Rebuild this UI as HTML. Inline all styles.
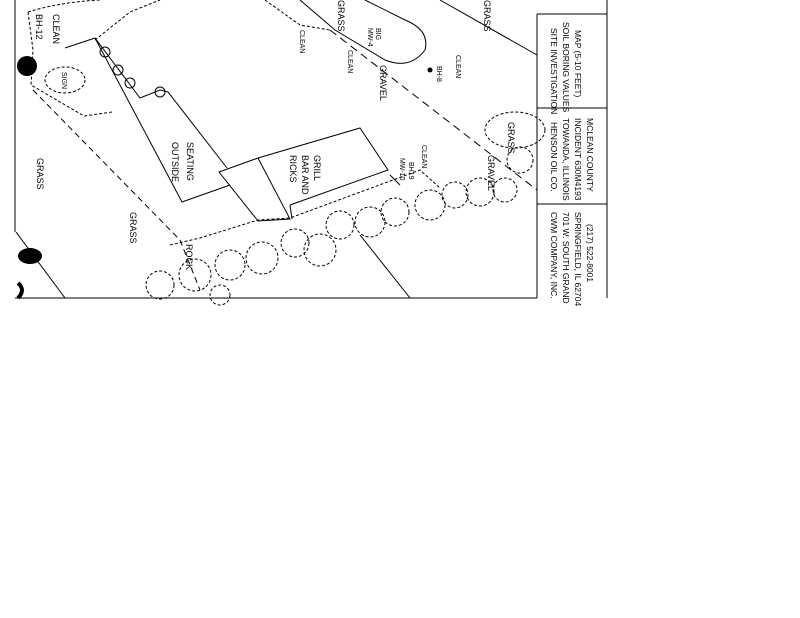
<!DOCTYPE html>
<html><head><style>
html,body{margin:0;padding:0;background:#fff;width:800px;height:618px;overflow:hidden}
svg{display:block}
text{font-family:"Liberation Sans Narrow","Liberation Sans",sans-serif;fill:#000}
</style></head><body>
<svg width="800" height="618" viewBox="0 0 800 618" xmlns="http://www.w3.org/2000/svg">
<g fill="none" stroke="#000" stroke-width="1">
<!-- border -->
<line x1="15" y1="0" x2="15" y2="232"/>
<line x1="15" y1="298" x2="537" y2="298"/>
<line x1="537" y1="14" x2="537" y2="298"/>
<line x1="607" y1="0" x2="607" y2="298"/>
<line x1="537" y1="14" x2="607" y2="14"/>
<line x1="537" y1="108" x2="607" y2="108"/>
<line x1="537" y1="204" x2="607" y2="204"/>
<!-- property lines -->
<path d="M28 12 L33 50 L31 85 L84 116 L112 112" stroke-dasharray="3,2"/>
<path d="M28 12 Q60 2 100 0" stroke-dasharray="3,2"/>
<path d="M95 40 L130 12 L160 0" stroke-dasharray="3,2"/>
<path d="M33 90 L180 240 L200 290" stroke-dasharray="6,4"/>
<path d="M16 232 L65 298"/>
<!-- outside seating building -->
<path d="M65 48 L95 38 L182 202 L230 185"/>
<path d="M95 38 L140 98 L160 90 L168 92 L227 168"/>
<path d="M219 172 L258 158 L290 219 L258 221 Z"/>
<path d="M258 158 L360 128 L388 170 L290 205"/>
<path d="M290 205 L292 219"/>
<circle cx="105" cy="52" r="5"/><circle cx="118" cy="70" r="5"/><circle cx="130" cy="83" r="5"/><circle cx="160" cy="92" r="5"/>
<ellipse cx="65" cy="80" rx="20" ry="13" stroke-dasharray="3,2"/>
<!-- rock area -->
<path d="M170 245 L200 238 L258 220 L290 218 L420 170 L440 188" stroke-dasharray="3,2"/>
<!-- trees -->
<g stroke-dasharray="3,2">
<circle cx="160" cy="285" r="14"/><circle cx="195" cy="275" r="16"/><circle cx="230" cy="265" r="15"/><circle cx="262" cy="258" r="16"/>
<circle cx="295" cy="243" r="14"/><circle cx="320" cy="250" r="16"/><circle cx="340" cy="225" r="14"/><circle cx="370" cy="222" r="15"/>
<circle cx="395" cy="212" r="14"/><circle cx="430" cy="205" r="15"/><circle cx="455" cy="195" r="13"/><circle cx="480" cy="192" r="14"/>
<circle cx="505" cy="190" r="12"/><circle cx="520" cy="160" r="13"/><ellipse cx="515" cy="130" rx="30" ry="18"/>
<circle cx="220" cy="295" r="10"/>
</g>
<!-- road/pavement -->
<path d="M300 0 L335 30 L385 60 Q410 70 425 50 Q430 30 405 20 L365 0"/>
<path d="M440 0 L537 55"/>
<path d="M330 30 L537 190" stroke-dasharray="8,5"/>
<path d="M265 0 L300 25 L330 30" stroke-dasharray="3,2"/>
<path d="M360 235 L410 298"/>
<path d="M400 185 L390 175" />
</g>
<circle cx="27" cy="66" r="10" fill="#000"/>
<ellipse cx="30" cy="256" rx="12" ry="8" fill="#000"/>
<path d="M18 283 Q26 290 18 298" stroke="#000" stroke-width="4" fill="none"/>
<circle cx="430" cy="70" r="2.5" fill="#000"/>
<g font-size="9">
<text transform="translate(36,14) rotate(90)">BH-12</text>
<text transform="translate(53,14) rotate(90)">CLEAN</text>
<text transform="translate(62,72) rotate(90)" font-size="7">SIGN</text>
<text transform="translate(37,158) rotate(90)">GRASS</text>
<text transform="translate(130,212) rotate(90)">GRASS</text>
<text transform="translate(172,142) rotate(90)">OUTSIDE</text>
<text transform="translate(187,142) rotate(90)">SEATING</text>
<text transform="translate(290,155) rotate(90)">RICKS</text>
<text transform="translate(302,155) rotate(90)">BAR AND</text>
<text transform="translate(314,155) rotate(90)">GRILL</text>
<text transform="translate(186,244) rotate(90)">ROCK</text>
<text transform="translate(348,50) rotate(90)" font-size="7">CLEAN</text>
<text transform="translate(300,30) rotate(90)" font-size="7">CLEAN</text>
<text transform="translate(368,28) rotate(90)" font-size="7">MW-4</text>
<text transform="translate(376,28) rotate(90)" font-size="7">BIG</text>
<text transform="translate(380,65) rotate(90)">GRAVEL</text>
<text transform="translate(437,66) rotate(90)" font-size="7">BH-8</text>
<text transform="translate(456,55) rotate(90)" font-size="7">CLEAN</text>
<text transform="translate(400,158) rotate(90)" font-size="7">MW-10</text>
<text transform="translate(409,162) rotate(90)" font-size="7">BH19</text>
<text transform="translate(422,145) rotate(90)" font-size="7">CLEAN</text>
<text transform="translate(488,155) rotate(90)">GRAVEL</text>
<text transform="translate(508,122) rotate(90)">GRASS</text>
<text transform="translate(338,0) rotate(90)">GRASS</text>
<text transform="translate(484,0) rotate(90)">GRASS</text>
<text transform="translate(551,28) rotate(90)" font-size="8.5">SITE INVESTIGATION</text>
<text transform="translate(563,22) rotate(90)" font-size="8.5">SOIL BORING VALUES</text>
<text transform="translate(575,30) rotate(90)" font-size="8.5">MAP (5-10 FEET)</text>
<text transform="translate(551,122) rotate(90)" font-size="8.5">HENSON OIL CO.</text>
<text transform="translate(563,118) rotate(90)" font-size="8.5">TOWANDA, ILLINOIS</text>
<text transform="translate(575,118) rotate(90)" font-size="8.5">INCIDENT 630M4193</text>
<text transform="translate(587,118) rotate(90)" font-size="8.5">MCLEAN COUNTY</text>
<text transform="translate(551,212) rotate(90)" font-size="8.5">CWM COMPANY, INC.</text>
<text transform="translate(563,212) rotate(90)" font-size="8.5">701 W. SOUTH GRAND</text>
<text transform="translate(575,212) rotate(90)" font-size="8.5">SPRINGFIELD, IL 62704</text>
<text transform="translate(587,224) rotate(90)" font-size="8.5">(217) 522-8001</text>
</g>
</svg>
</body></html>
